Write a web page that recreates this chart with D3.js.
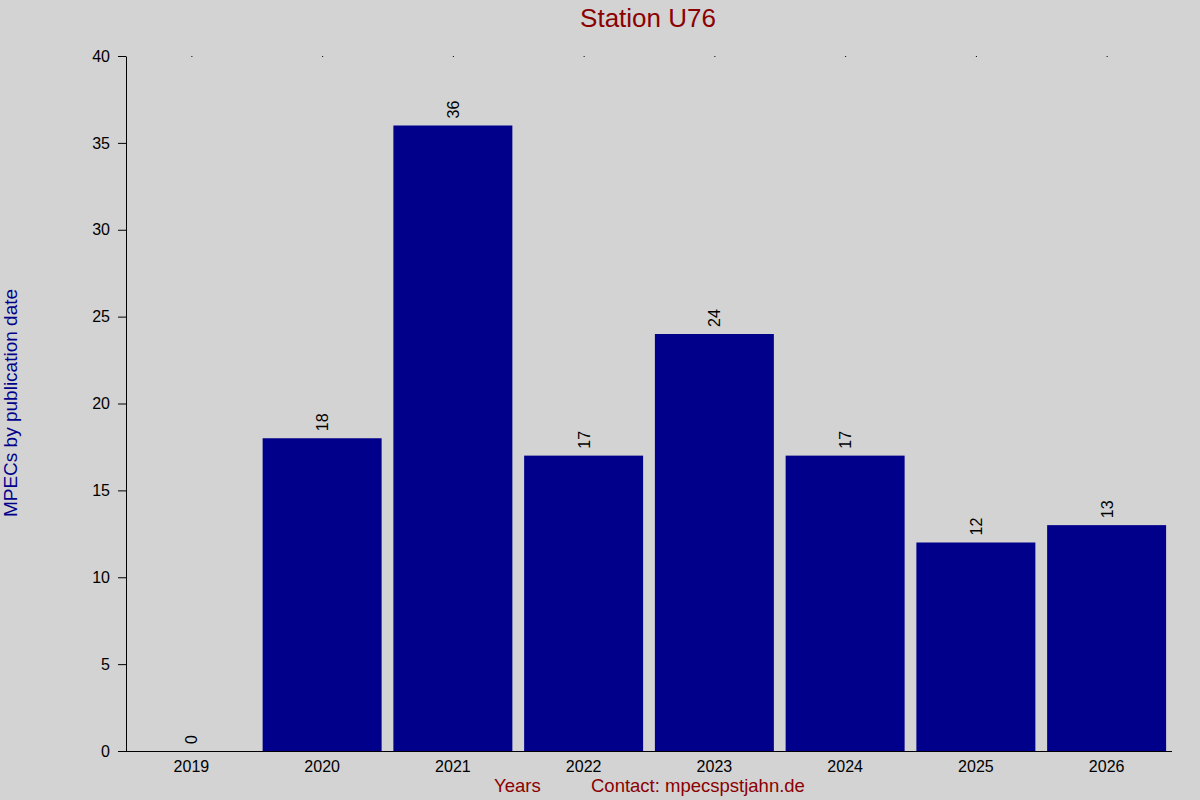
<!DOCTYPE html>
<html>
<head>
<meta charset="utf-8">
<script src="https://cdn.jsdelivr.net/npm/d3@7"></script>
<style>
  body { margin: 0; background: #d3d3d3; }
  svg { display: block; font-family: "Liberation Sans", Arial, sans-serif; }
</style>
</head>
<body>
<div id="graph"></div>
<script>
// chart data
let years = ["2019", "2020", "2021", "2022", "2023", "2024", "2025", "2026"];
let counts = [0, 18, 36, 17, 24, 17, 12, 13];
let yTicks = [0, 5, 10, 15, 20, 25, 30, 35, 40];

let margin = { top: 56, right: 28, bottom: 49, left: 126 },
  width = 1200 - margin.left - margin.right,
  height = 800 - margin.top - margin.bottom;

let root = d3
  .select("#graph")
  .append("svg")
  .attr("width", 1200)
  .attr("height", 800);

root.append("rect").attr("width", 1200).attr("height", 800).attr("fill", "#d3d3d3");

let svg = root
  .append("g")
  .attr("transform", "translate(" + margin.left + "," + margin.top + ")");

let x = d3.scaleBand().domain(years).range([0, width]).paddingInner(0.09).paddingOuter(0.045);
let y = d3.scaleLinear().domain([0, 40]).range([height, 0]);

// bars
svg
  .selectAll(".bar")
  .data(years)
  .enter()
  .append("rect")
  .attr("class", "bar")
  .attr("x", (d) => x(d))
  .attr("y", (d, i) => y(counts[i]))
  .attr("width", x.bandwidth())
  .attr("height", (d, i) => height - y(counts[i]))
  .attr("fill", "#00008b");

// value labels, rotated
svg
  .selectAll(".val")
  .data(years)
  .enter()
  .append("text")
  .attr("class", "val")
  .attr("transform", (d, i) =>
    "translate(" + (x(d) + x.bandwidth() / 2 + 6) + "," + (y(counts[i]) - 7) + ") rotate(-90)")
  .attr("font-size", "16px")
  .attr("fill", "#000")
  .text((d, i) => counts[i]);

// small dots at top for each category
svg
  .selectAll(".dot")
  .data(years)
  .enter()
  .append("rect")
  .attr("x", (d) => x(d) + x.bandwidth() / 2)
  .attr("y", 0)
  .attr("width", 1)
  .attr("height", 1)
  .attr("fill", "#000");

// y axis
let yAxis = svg
  .append("g")
  .call(d3.axisLeft(y).tickValues(yTicks).tickSize(8).tickSizeOuter(0));
yAxis.select(".domain").attr("stroke", "#000");
yAxis.selectAll("text").attr("font-size", "16px").attr("font-family", "Liberation Sans, Arial, sans-serif").attr("x", -16);

// x axis
let xAxis = svg
  .append("g")
  .attr("transform", "translate(0," + height + ")")
  .call(d3.axisBottom(x).tickSize(0).tickSizeOuter(0));
xAxis.select(".domain").attr("d", "M-8,0.5H" + width);
xAxis.selectAll("text").attr("font-size", "16px").attr("font-family", "Liberation Sans, Arial, sans-serif").attr("dy", "1.1em");

// title
root
  .append("text")
  .attr("x", 648)
  .attr("y", 27)
  .attr("text-anchor", "middle")
  .attr("font-size", "26px")
  .attr("fill", "#8b0000")
  .text("Station U76");

// y label
root
  .append("text")
  .attr("transform", "translate(17,403) rotate(-90)")
  .attr("text-anchor", "middle")
  .attr("font-size", "19px")
  .attr("fill", "#00008b")
  .text("MPECs by publication date");

// bottom labels
root
  .append("text")
  .attr("x", 494)
  .attr("y", 792)
  .attr("font-size", "18.5px")
  .attr("fill", "#8b0000")
  .text("Years");

root
  .append("text")
  .attr("x", 591)
  .attr("y", 792)
  .attr("font-size", "18.5px")
  .attr("fill", "#8b0000")
  .text("Contact: mpecspstjahn.de");
</script>
</body>
</html>
